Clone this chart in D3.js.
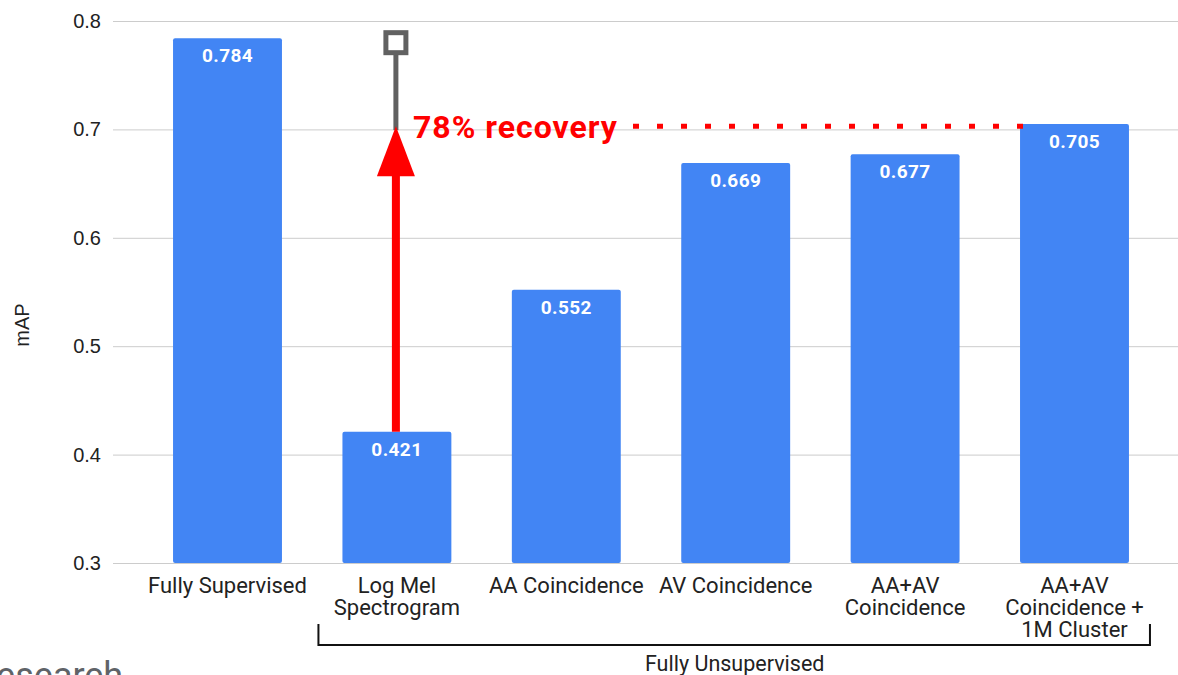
<!DOCTYPE html>
<html>
<head>
<meta charset="utf-8">
<script src="https://cdn.jsdelivr.net/npm/d3@7"></script>
<style>
  html, body { margin: 0; padding: 0; background: #fff; }
  svg { display: block; }
</style>
</head>
<body>
<svg id="chart" width="1178" height="675"></svg>
<script>
// ---- data ----
const categories = [
  ["Fully Supervised"],
  ["Log Mel", "Spectrogram"],
  ["AA Coincidence"],
  ["AV Coincidence"],
  ["AA+AV", "Coincidence"],
  ["AA+AV", "Coincidence +", "1M Cluster"]
];
const values = [0.784, 0.421, 0.552, 0.669, 0.677, 0.705];
const valueLabels = ["0.784", "0.421", "0.552", "0.669", "0.677", "0.705"];
const yTicks = [0.3, 0.4, 0.5, 0.6, 0.7, 0.8];
const yDomain = [0.3, 0.8];
const yAxisTitle = "mAP";
const groupLabel = "Fully Unsupervised";
const groupFrom = 1, groupTo = 5;            // bracket spans these categories
const supervisedMark = 0.78;                  // gray square marker level
const recoveryLevel = 0.703;                  // arrow tip / dotted line level
const recoveryFromIndex = 1;                  // arrow starts on this bar
const recoveryToIndex = 5;                    // dotted line ends on this bar
const recoveryText = "78% recovery";
const watermark = "Research";

// ---- layout ----
const svg = d3.select("#chart");
const plotLeft = 113, plotRight = 1178;
const y = d3.scaleLinear().domain(yDomain).range([563, 21]);
const keys = categories.map((c, i) => i);
const x = d3.scaleBand().domain(keys).range([142.8, 1159.2])
  .paddingInner(0.357).paddingOuter(0.1785);

// gridlines + y tick labels
const yAxis = d3.axisLeft(y).tickValues(yTicks).tickFormat(d3.format(".1f"))
  .tickSize(-(plotRight - plotLeft)).tickPadding(12);
const gy = svg.append("g").attr("transform", `translate(${plotLeft},0)`).call(yAxis);
gy.select(".domain").remove();
gy.selectAll(".tick line").attr("stroke", "#cccccc").attr("stroke-width", 1);
gy.selectAll(".tick text")
  .attr("font-family", "Liberation Sans, Arial, sans-serif")
  .attr("font-size", 20).attr("fill", "#222");

// y title
svg.append("text")
  .attr("transform", `translate(29,325) rotate(-90)`)
  .attr("text-anchor", "middle")
  .attr("font-family", "Liberation Sans, Arial, sans-serif")
  .attr("font-size", 20).attr("fill", "#222")
  .text(yAxisTitle);

// bars
svg.append("g").selectAll("rect").data(values).join("rect")
  .attr("x", (d, i) => x(i))
  .attr("y", d => y(d))
  .attr("width", x.bandwidth())
  .attr("height", d => y(yDomain[0]) - y(d))
  .attr("rx", 2)
  .attr("fill", "#4285f4");

// value labels
svg.append("g").selectAll("text").data(values).join("text")
  .attr("x", (d, i) => x(i) + x.bandwidth() / 2)
  .attr("y", d => y(d) + 24)
  .attr("text-anchor", "middle")
  .attr("font-family", "Roboto, sans-serif")
  .attr("font-weight", "bold")
  .attr("font-size", 19)
  .attr("letter-spacing", 0.4)
  .attr("fill", "#fff")
  .text((d, i) => valueLabels[i]);

// category labels (one text per line)
const catLines = [];
categories.forEach((lines, i) => lines.forEach((t, j) => catLines.push({t, i, j})));
svg.append("g").selectAll("text").data(catLines).join("text")
  .attr("x", d => x(d.i) + x.bandwidth() / 2)
  .attr("y", d => 593 + d.j * 22)
  .attr("text-anchor", "middle")
  .attr("font-family", "Roboto, sans-serif")
  .attr("font-size", 22)
  .attr("fill", "#222")
  .text(d => d.t);

// bracket
const bx0 = x(groupFrom) - 24, bx1 = x(groupTo) + x.bandwidth() + 21;
svg.append("path")
  .attr("d", `M${bx0},624 V645 H${bx1} V624`)
  .attr("fill", "none").attr("stroke", "#111").attr("stroke-width", 2);
svg.append("text")
  .attr("x", (x(groupFrom) + x(groupTo) + x.bandwidth()) / 2 - 1)
  .attr("y", 671)
  .attr("text-anchor", "middle")
  .attr("font-family", "Roboto, sans-serif")
  .attr("font-size", 21.5).attr("fill", "#222")
  .text(groupLabel);

// annotation
const ax = x(recoveryFromIndex) + x.bandwidth() / 2 - 1;
const tipY = y(recoveryLevel);
// gray line + square
svg.append("line")
  .attr("x1", ax).attr("x2", ax)
  .attr("y1", y(supervisedMark) + 10).attr("y2", tipY + 4)
  .attr("stroke", "#616161").attr("stroke-width", 5);
svg.append("rect")
  .attr("x", ax - 10).attr("y", y(supervisedMark) - 10)
  .attr("width", 20).attr("height", 20)
  .attr("fill", "#fff").attr("stroke", "#616161").attr("stroke-width", 5);
// red arrow shaft
const headH = 50, headW = 38;
svg.append("line")
  .attr("x1", ax).attr("x2", ax)
  .attr("y1", y(values[recoveryFromIndex]))
  .attr("y2", tipY + headH - 2)
  .attr("stroke", "#ff0000").attr("stroke-width", 8);
svg.append("path")
  .attr("d", `M${ax},${tipY} L${ax + headW / 2},${tipY + headH} L${ax - headW / 2},${tipY + headH} Z`)
  .attr("fill", "#ff0000");
// text
svg.append("text")
  .attr("x", 413).attr("y", tipY + 12)
  .attr("font-family", "Roboto, sans-serif")
  .attr("font-weight", "bold")
  .attr("font-size", 32)
  .attr("letter-spacing", 1)
  .attr("fill", "#ff0000")
  .text(recoveryText);
// dotted line
svg.append("line")
  .attr("x1", 633).attr("x2", x(recoveryToIndex) + 5)
  .attr("y1", tipY).attr("y2", tipY)
  .attr("stroke", "#ff0000").attr("stroke-width", 5)
  .attr("stroke-dasharray", "6,18");

// partial watermark
svg.append("text")
  .attr("x", 123).attr("y", 688)
  .attr("text-anchor", "end")
  .attr("font-family", "Roboto, sans-serif")
  .attr("font-size", 36)
  .attr("fill", "#5f6368")
  .text(watermark);
</script>
</body>
</html>
